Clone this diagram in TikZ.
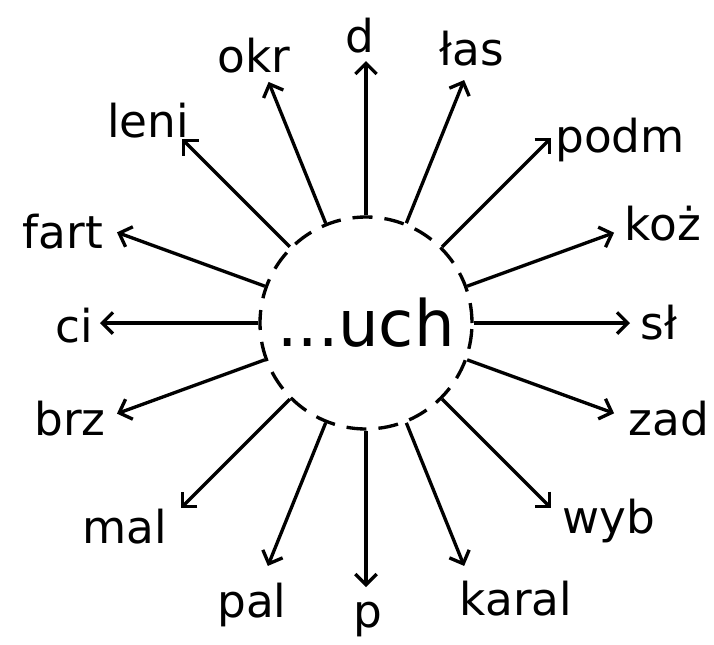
\documentclass[tikz,border=0pt]{standalone}
\usepackage{fontspec}
\setmainfont{DejaVu Sans}
\usepackage{tikz}
\usetikzlibrary{arrows.meta}

\begin{document}
\begin{tikzpicture}[
  x=0.75pt, y=0.75pt,
  hub/.style  = {draw, dashed, circle, line width=2.5pt,
                 dash pattern=on 15pt off 9pt, minimum size=159pt,
                 inner sep=0pt, font=\fontsize{48}{52}\selectfont},
  word/.style = {anchor=base, inner sep=0pt,
                 font=\fontsize{34}{38}\selectfont},
  arr/.style  = {-{Straight Barb[length=8pt, width=16pt]}, line width=2.5pt},
]
\useasboundingbox (-366,-321) rectangle (348,323);

\node[hub] (c) at (0,0) {...uch};

% ends of the rays
\coordinate (t90)  at (90:262);
\coordinate (t68)  at (68:262);
\coordinate (t45)  at (45:262);
\coordinate (t20)  at (20:264);
\coordinate (t0)   at (0:264);
\coordinate (t-20) at (-20:264);
\coordinate (t-45) at (-45:262);
\coordinate (t-68) at (-68:262);
\coordinate (t-90) at (-90:264);
\coordinate (t-112) at (-112:262);
\coordinate (t-135) at (-135:262);
\coordinate (t-160) at (-160:265);
\coordinate (t180) at (180:266);
\coordinate (t160) at (160:265);
\coordinate (t135) at (135:260);
\coordinate (t112) at (112:260);

% words
\node[word] (d)     at (-6,271)    {d};
\node[word] (las)   at (106,258)   {łas};
\node[word] (podm)  at (254,171)   {podm};
\node[word] (koz)   at (297,83)    {koż};
\node[word] (sl)    at (293,-16)   {sł};
\node[word] (zad)   at (303,-112)  {zad};
\node[word] (wyb)   at (243,-210)  {wyb};
\node[word] (karal) at (150,-292)  {karal};
\node[word] (p)     at (2,-304)    {p};
\node[word] (pal)   at (-114,-294) {pal};
\node[word] (mal)   at (-241,-220) {mal};
\node[word] (brz)   at (-296,-112) {brz};
\node[word] (ci)    at (-292,-19)  {ci};
\node[word] (fart)  at (-303,75)   {fart};
\node[word] (leni)  at (-218,186)  {leni};
\node[word] (okr)   at (-112,251)  {okr};

\draw[arr] (c.90)   -- (t90);
\draw[arr] (c.68)   -- (t68);
\draw[arr] (c.45)   -- (t45);
\draw[arr] (c.20)   -- (t20);
\draw[arr] (c.0)    -- (t0);
\draw[arr] (c.-20)  -- (t-20);
\draw[arr] (c.-45)  -- (t-45);
\draw[arr] (c.-68)  -- (t-68);
\draw[arr] (c.-90)  -- (t-90);
\draw[arr] (c.-112) -- (t-112);
\draw[arr] (c.-135) -- (t-135);
\draw[arr] (c.-160) -- (t-160);
\draw[arr] (c.180)  -- (t180);
\draw[arr] (c.160)  -- (t160);
\draw[arr] (c.135)  -- (t135);
\draw[arr] (c.112)  -- (t112);

\end{tikzpicture}
\end{document}
